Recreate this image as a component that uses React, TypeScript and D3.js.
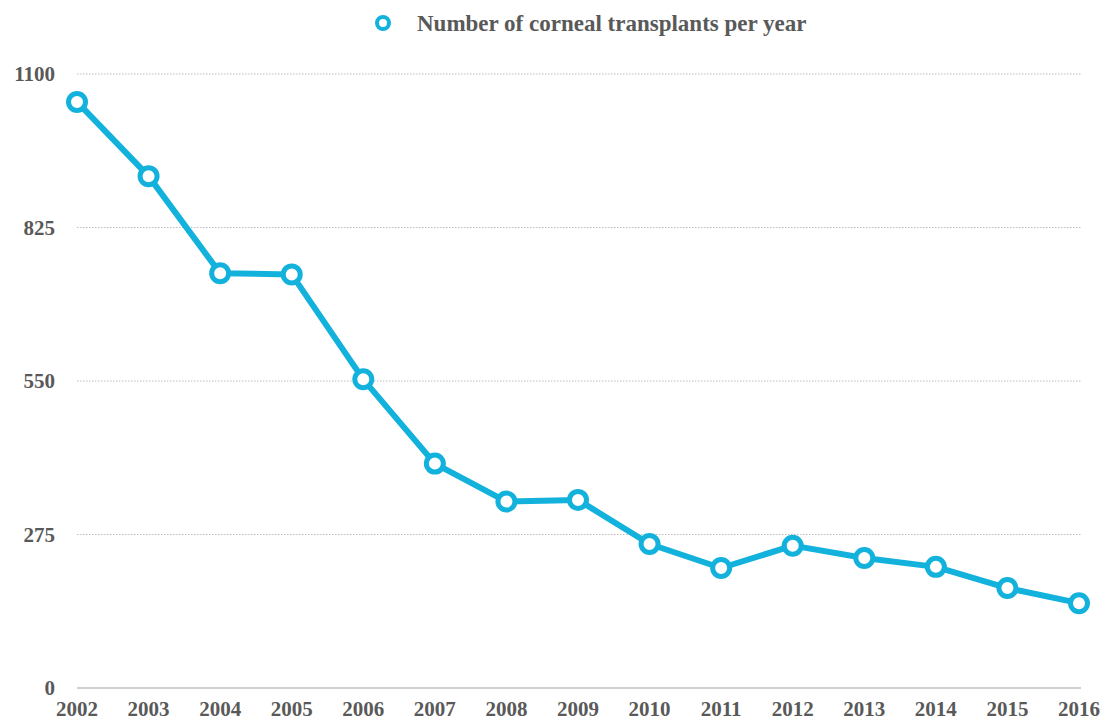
import React, { useRef, useEffect } from "react";
import * as d3 from "d3";

const years = ["2002", "2003", "2004", "2005", "2006", "2007", "2008", "2009", "2010", "2011", "2012", "2013", "2014", "2015", "2016"];
const transplants = [1050, 917, 743, 741, 553, 402, 334, 337, 258, 215, 255, 233, 217, 179, 152];
const yTicks = [0, 275, 550, 825, 1100];
const seriesName = "Number of corneal transplants per year";

const WIDTH = 1113;
const HEIGHT = 722;
const LINE_COLOR = "#12b2dd";
const TEXT_COLOR = "#595959";
const FONT = "'Liberation Serif', 'Times New Roman', serif";

export default function App() {
  const svgRef = useRef<SVGSVGElement>(null);

  useEffect(() => {
    const svg = d3.select(svgRef.current);
    svg.selectAll("*").remove();

    const left = 77;
    const right = 1081;
    const top = 74;
    const bottom = 688;

    const x = d3.scalePoint<string>().domain(years).range([left, 1079]);
    const y = d3.scaleLinear().domain([0, 1100]).range([bottom, top]);

    // dotted grid lines
    svg.append("g")
      .selectAll("line")
      .data(yTicks.filter((t) => t > 0))
      .enter()
      .append("line")
      .attr("x1", left)
      .attr("x2", right)
      .attr("y1", (d) => y(d))
      .attr("y2", (d) => y(d))
      .attr("stroke", "#bdbdbd")
      .attr("stroke-width", 1)
      .attr("stroke-dasharray", "1.5,1.5");

    // base axis line
    svg.append("line")
      .attr("x1", left)
      .attr("x2", right)
      .attr("y1", y(0))
      .attr("y2", y(0))
      .attr("stroke", "#cfcfcf")
      .attr("stroke-width", 2);

    // y tick labels
    svg.append("g")
      .selectAll("text")
      .data(yTicks)
      .enter()
      .append("text")
      .attr("x", 55)
      .attr("y", (d) => y(d) + 7)
      .attr("text-anchor", "end")
      .attr("font-family", FONT)
      .attr("font-weight", "bold")
      .attr("font-size", 21)
      .attr("fill", TEXT_COLOR)
      .text((d) => String(d));

    // x tick labels
    svg.append("g")
      .selectAll("text")
      .data(years)
      .enter()
      .append("text")
      .attr("x", (d) => x(d) as number)
      .attr("y", 716)
      .attr("text-anchor", "middle")
      .attr("font-family", FONT)
      .attr("font-weight", "bold")
      .attr("font-size", 21)
      .attr("fill", TEXT_COLOR)
      .text((d) => d);

    // line
    const line = d3.line<number>()
      .x((_, i) => x(years[i]) as number)
      .y((d) => y(d));

    svg.append("path")
      .datum(transplants)
      .attr("d", line)
      .attr("fill", "none")
      .attr("stroke", LINE_COLOR)
      .attr("stroke-width", 6)
      .attr("stroke-linejoin", "round");

    svg.append("g")
      .selectAll("circle")
      .data(transplants)
      .enter()
      .append("circle")
      .attr("cx", (_, i) => x(years[i]) as number)
      .attr("cy", (d) => y(d))
      .attr("r", 8.5)
      .attr("fill", "white")
      .attr("stroke", LINE_COLOR)
      .attr("stroke-width", 5);

    // legend
    const legend = svg.append("g");
    legend.append("circle")
      .attr("cx", 383)
      .attr("cy", 23)
      .attr("r", 6)
      .attr("fill", "white")
      .attr("stroke", LINE_COLOR)
      .attr("stroke-width", 4);
    legend.append("text")
      .attr("x", 417)
      .attr("y", 31)
      .attr("font-family", FONT)
      .attr("font-weight", "bold")
      .attr("font-size", 23)
      .attr("fill", TEXT_COLOR)
      .text(seriesName);
  }, []);

  return (
    <svg
      ref={svgRef}
      width={WIDTH}
      height={HEIGHT}
      style={{ position: "absolute", left: 0, top: 0, background: "white" }}
    />
  );
}
